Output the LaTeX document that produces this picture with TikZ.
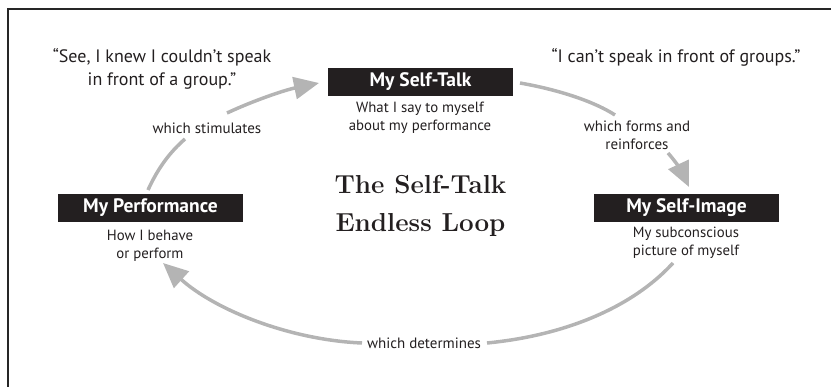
\documentclass[tikz,border=0pt]{standalone}
\usepackage{fontspec}
\newfontfamily\bodyfont{PT Sans}
\usetikzlibrary{arrows.meta}
\definecolor{boxfill}{HTML}{231F20}
\definecolor{loopgray}{HTML}{B4B4B4}
\definecolor{ink}{HTML}{231F20}
\tikzset{
  stagebox/.style={fill=boxfill, text=white, font=\bodyfont\fontsize{19.5}{21}\selectfont\bfseries,
    minimum width=185pt, minimum height=28pt, inner sep=0pt},
  stagenote/.style={text=ink, align=center, font=\bodyfont\fontsize{14.8}{18.5}\selectfont, inner sep=0pt},
  quote/.style={text=ink, align=center, font=\bodyfont\fontsize{18}{23}\selectfont, inner sep=0pt},
  looplabel/.style={text=ink, align=center, font=\bodyfont\fontsize{15}{18}\selectfont, inner sep=0pt},
  headline/.style={text=ink, align=center, font=\rmfamily\bfseries\fontsize{26}{38}\selectfont, inner sep=0pt},
  loop/.style={draw=loopgray, line width=3.5pt},
  looptip/.style={loop, -{Triangle[length=25pt,width=22pt]}},
}
\begin{document}
\begin{tikzpicture}[x=1pt,y=-1pt]
  \useasboundingbox (0,0) rectangle (831,387);
  % frame
  \draw[line width=2pt, black!85] (8,392) -- (8,9.5) -- (836,9.5);

  % stages
  \node[stagebox] (talk)  at (420.5,82)  {My Self-Talk};
  \node[stagebox] (image) at (686.5,208) {My Self-Image};
  \node[stagebox] (perf)  at (150.5,208) {My Performance};
  \node[stagenote] (talknote)  at (420,118) {What I say to myself\\about my performance};
  \node[stagenote] (imagenote) at (686,243) {My subconscious\\picture of myself};
  \node[stagenote] (perfnote)  at (150,246) {How I behave\\or perform};

  % title
  \node[headline] (title) at (420.5,206) {The Self-Talk\\Endless Loop};

  % quotes
  \node[quote] (quoteL) at (162,69) {“See, I knew I couldn’t speak\\in front of a group.”};
  \node[quote] (quoteR) at (676,57) {“I can’t speak in front of groups.”};

  % loop labels
  \node[looplabel] (stim) at (207,128) {which stimulates};
  \node[looplabel] (forms) at (637,135) {which forms and\\reinforces};
  \node[looplabel] (det) at (424,343) {which determines};

  % loop arrow ends
  \coordinate (p1) at (148,190);
  \coordinate (p2) at (185,139);
  \coordinate (p3) at (227,113);
  \coordinate (p4) at (319,83);
  \coordinate (t1) at (520,83);
  \coordinate (t2) at (615,115);
  \coordinate (t3) at (668,153);
  \coordinate (t4) at (689,187);
  \coordinate (i1) at (673,263);
  \coordinate (i2) at (487,343);
  \coordinate (i3) at (362,343);
  \coordinate (i4) at (163,263);

  % performance -> self-talk
  \draw[loop] (p1) .. controls (158,168) and (170,152) .. (p2);
  \draw[looptip] (p3) .. controls (255,100) and (285,90) .. (p4);
  % self-talk -> self-image
  \draw[loop] (t1) .. controls (560,90) and (595,102) .. (t2);
  \draw[looptip] (t3) .. controls (676,162) and (682,172) .. (t4);
  % self-image -> performance
  \draw[loop] (i1) .. controls (630,310) and (560,336) .. (i2);
  \draw[looptip] (i3) .. controls (290,340) and (215,310) .. (i4);
\end{tikzpicture}
\end{document}
